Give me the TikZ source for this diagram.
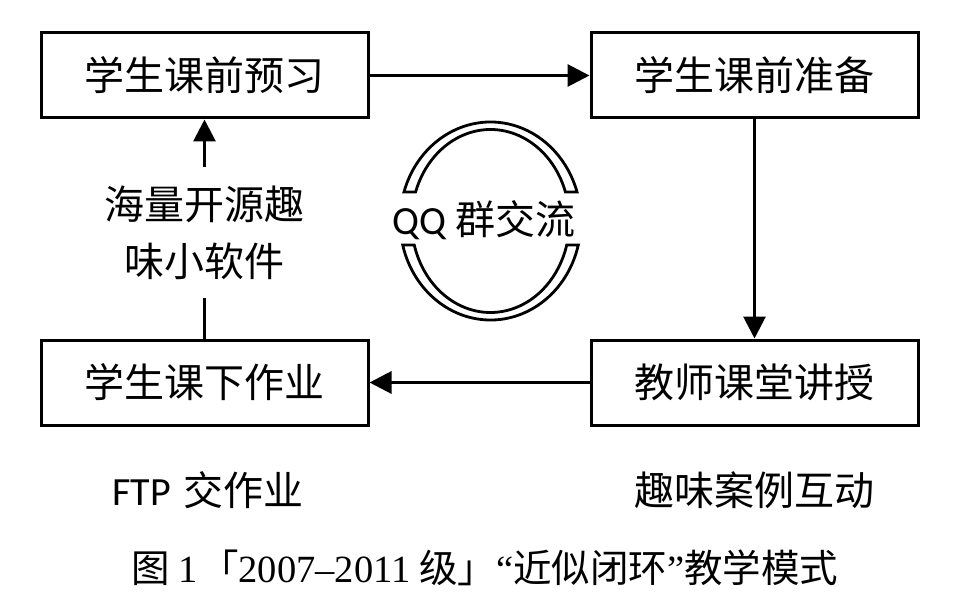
\documentclass[tikz,border=0pt]{standalone}
\usepackage{fontspec}
\newfontfamily\cjk{Noto Sans CJK SC}
\newfontfamily\latf{Carlito}
\newfontfamily\tms{Liberation Serif}
\usetikzlibrary{arrows.meta,calc}
\tikzset{
 box/.style={draw, line width=3pt, minimum width=327pt, minimum height=85pt, inner sep=0pt, font=\cjk\fontsize{40}{48}\selectfont},
 conn/.style={line width=3pt},
 arr/.style={conn, -{Triangle[length=22pt,width=22pt]}},
 lbl/.style={font=\cjk\fontsize{40}{57}\selectfont, align=center, inner sep=0pt},
 ring/.style={line width=2.8pt, fill=white},
 captext/.style={font=\cjk\fontsize{38.5}{44}\selectfont, inner sep=0pt},
}
\begin{document}
\begin{tikzpicture}[x=1pt,y=-1pt]
\useasboundingbox (0,0) rectangle (964,596);
\node[box] (A) at (204.5,75.5) {学生课前预习};
\node[box] (B) at (754.5,75.5) {学生课前准备};
\node[box] (C) at (204.5,382.5) {学生课下作业};
\node[box] (D) at (754.5,382.5) {教师课堂讲授};
\draw[arr] (A.east) -- (B.west);
\draw[arr] (B.south) -- (D.north);
\draw[arr] (D.west) -- (C.east);
\coordinate (l1) at (204.5,167);
\coordinate (l2) at (204.5,298);
\draw[conn] (C.north) -- (l2);
\draw[arr] (l1) -- (A.south);
\node[lbl] (soft) at (204.5,233) {海量开源趣\\味小软件};
% QQ ring
\coordinate (c) at (490.5,221);
\draw[ring] ($(c)+(197:90.5 and 99)$) arc[start angle=197, end angle=343, x radius=90.5, y radius=99]
  -- ($(c)+(341.5:79 and 91.5)$) arc[start angle=341.5, end angle=198.5, x radius=79, y radius=91.5] -- cycle;
\draw[ring] ($(c)+(14:90.5 and 99)$) arc[start angle=14, end angle=166, x radius=90.5, y radius=99]
  -- ($(c)+(164.8:79 and 91.5)$) arc[start angle=164.8, end angle=15.2, x radius=79, y radius=91.5] -- cycle;
\node[lbl] (qq) at (484,220) {{\latf QQ} 群交流};
\node[lbl] (ftp) at (208,490) {{\latf FTP}\hspace{4pt} 交作业};
\node[lbl] (qw) at (754,490) {趣味案例互动};
\node[captext] (caption) at (485,568) {图 {\tms 1}\hspace{2pt}「{\tms 2007–2011} 级」{\tms “}近似闭环{\tms ”}教学模式};
\end{tikzpicture}
\end{document}
